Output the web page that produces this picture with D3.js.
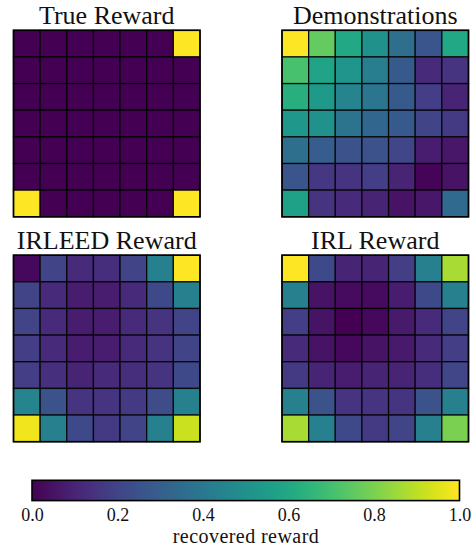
<!DOCTYPE html>
<html>
<head>
<meta charset="utf-8">
<script src="https://cdn.jsdelivr.net/npm/d3@7"></script>
<style>
  html, body { margin: 0; padding: 0; background: #fff; }
  svg { display: block; }
</style>
</head>
<body>
<script>
const titles = ["True Reward", "Demonstrations", "IRLEED Reward", "IRL Reward"];

const trueReward = [
  [0,0,0,0,0,0,1],
  [0,0,0,0,0,0,0],
  [0,0,0,0,0,0,0],
  [0,0,0,0,0,0,0],
  [0,0,0,0,0,0,0],
  [0,0,0,0,0,0,0],
  [1,0,0,0,0,0,1]
];

const demonstrations = [
  [1.00,0.76,0.60,0.50,0.36,0.26,0.60],
  [0.71,0.58,0.52,0.42,0.28,0.12,0.15],
  [0.63,0.54,0.45,0.39,0.28,0.18,0.10],
  [0.53,0.50,0.38,0.33,0.28,0.20,0.17],
  [0.36,0.29,0.25,0.25,0.21,0.08,0.06],
  [0.26,0.16,0.15,0.18,0.10,0.01,0.05],
  [0.57,0.15,0.12,0.10,0.05,0.06,0.34]
];

const irleedReward = [
  [0.02,0.20,0.12,0.13,0.20,0.43,1.00],
  [0.20,0.12,0.08,0.08,0.12,0.22,0.43],
  [0.20,0.12,0.08,0.08,0.12,0.15,0.20],
  [0.18,0.12,0.08,0.08,0.12,0.15,0.20],
  [0.18,0.14,0.10,0.12,0.13,0.15,0.22],
  [0.45,0.25,0.15,0.15,0.17,0.23,0.43],
  [0.98,0.43,0.22,0.17,0.20,0.43,0.92]
];

const irlReward = [
  [1.00,0.22,0.10,0.10,0.18,0.43,0.87],
  [0.43,0.05,0.03,0.03,0.08,0.22,0.43],
  [0.18,0.05,0.00,0.02,0.07,0.12,0.20],
  [0.12,0.05,0.02,0.05,0.07,0.12,0.18],
  [0.17,0.10,0.08,0.10,0.10,0.13,0.21],
  [0.43,0.25,0.15,0.15,0.15,0.25,0.43],
  [0.87,0.43,0.22,0.17,0.20,0.43,0.80]
];

const colorbarTicks = [0.0, 0.2, 0.4, 0.6, 0.8, 1.0];
const colorbarLabel = "recovered reward";

const panels = [trueReward, demonstrations, irleedReward, irlReward];

const FONT = '"Liberation Serif", "Times New Roman", serif';
const W = 476, H = 547;
const svg = d3.select("body").append("svg").attr("width", W).attr("height", H);

const color = d3.scaleSequential(d3.interpolateViridis).domain([0, 1]);

const gridSize = 186.5;
const origins = [
  {x: 13.5, y: 30.3},
  {x: 282.0, y: 30.3},
  {x: 13.5, y: 255.2},
  {x: 282.0, y: 255.2}
];

const idx = d3.range(7);
const band = d3.scaleBand().domain(idx).range([0, gridSize]).padding(0);

panels.forEach((data, p) => {
  const o = origins[p];
  const g = svg.append("g").attr("transform", `translate(${o.x},${o.y})`);
  const cells = [];
  data.forEach((row, r) => row.forEach((v, c) => cells.push({r, c, v})));
  g.selectAll("rect.cell").data(cells).enter().append("rect")
    .attr("class", "cell")
    .attr("x", d => band(d.c))
    .attr("y", d => band(d.r))
    .attr("width", band.bandwidth())
    .attr("height", band.bandwidth())
    .attr("fill", d => color(d.v))
    .attr("stroke", "#000")
    .attr("stroke-opacity", 0.85)
    .attr("stroke-width", 1.3);
  g.append("rect")
    .attr("x", 0).attr("y", 0)
    .attr("width", gridSize).attr("height", gridSize)
    .attr("fill", "none").attr("stroke", "#000").attr("stroke-width", 1.6);
  g.append("text")
    .attr("x", gridSize / 2)
    .attr("y", -6.5)
    .attr("text-anchor", "middle")
    .style("font-family", FONT)
    .style("font-size", "26px")
    .style("fill", "#111")
    .text(titles[p]);
});

// Colorbar
const cb = {x0: 32, x1: 459.5, y: 480.3, h: 20.3};
const defs = svg.append("defs");
const grad = defs.append("linearGradient").attr("id", "vir").attr("x1", "0%").attr("x2", "100%");
d3.range(0, 1.0001, 0.05).forEach(t => {
  grad.append("stop").attr("offset", (t * 100) + "%").attr("stop-color", color(t));
});
const cbScale = d3.scaleLinear().domain([0, 1]).range([cb.x0, cb.x1]);
svg.append("rect")
  .attr("x", cb.x0).attr("y", cb.y)
  .attr("width", cb.x1 - cb.x0).attr("height", cb.h)
  .attr("fill", "url(#vir)")
  .attr("stroke", "#000").attr("stroke-width", 1.6);

const axis = d3.axisBottom(cbScale).tickValues(colorbarTicks).tickFormat(d3.format(".1f")).tickSize(0).tickPadding(0);
const ag = svg.append("g").attr("transform", `translate(0,${cb.y + cb.h})`).call(axis);
ag.select(".domain").remove();
ag.selectAll("text")
  .attr("dy", null)
  .attr("y", 20.2)
  .style("font-family", FONT)
  .style("font-size", "18px")
  .style("fill", "#111");

svg.append("text")
  .attr("x", (cb.x0 + cb.x1) / 2)
  .attr("y", 542.5)
  .attr("text-anchor", "middle")
  .attr("textLength", 146)
  .attr("lengthAdjust", "spacing")
  .style("font-family", FONT)
  .style("font-size", "20px")
  .style("fill", "#111")
  .text(colorbarLabel);
</script>
</body>
</html>
